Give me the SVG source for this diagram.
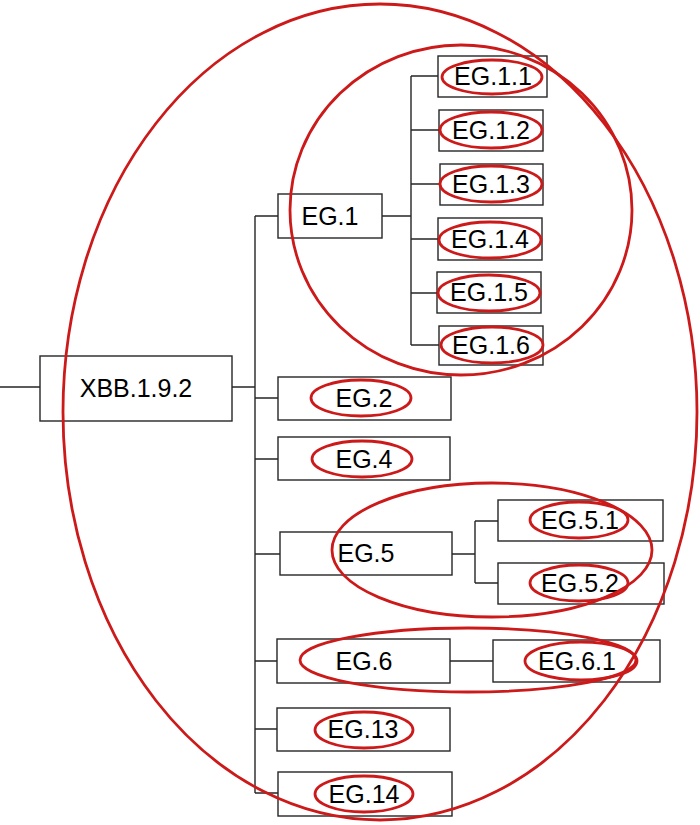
<svg xmlns="http://www.w3.org/2000/svg" width="700" height="825" viewBox="0 0 700 825">
<style>
.box{fill:#fff;stroke:#262626;stroke-width:1.4}
.lbl{font-family:"Liberation Sans",Arial,sans-serif;font-size:25px;fill:#000;text-anchor:middle}
.conn path{fill:none;stroke:#262626;stroke-width:1.4}
.hl{fill:none;stroke:#cc1a1a;stroke-width:2.8}
</style>
<rect width="700" height="825" fill="#fff"/>
<g id="connectors" class="conn">
<path d="M0 387H40M232 387H255M255 216V793M255 216H278M255 398H278M255 459H278M255 554H280M255 661H277M255 729H277M255 793H278"/>
<path d="M382 216H411M411 76V345M411 76H438M411 130H439M411 184H440M411 239H438M411 293H437M411 345H439"/>
<path d="M452 554H475M475 521V583M475 521H498M475 583H498M450 661H493"/>
</g>
<g id="n-xbb"><rect class="box" x="40" y="356" width="192" height="65"/><text class="lbl" x="136" y="397">XBB.1.9.2</text></g>
<g id="n-eg1"><rect class="box" x="278" y="194" width="104" height="44"/><text class="lbl" x="330" y="225">EG.1</text></g>
<g id="n-eg1-1"><rect class="box" x="438" y="56" width="109" height="41"/><text class="lbl" x="493" y="85">EG.1.1</text></g>
<g id="n-eg1-2"><rect class="box" x="439" y="110" width="104" height="41"/><text class="lbl" x="491" y="139">EG.1.2</text></g>
<g id="n-eg1-3"><rect class="box" x="440" y="164" width="103" height="41"/><text class="lbl" x="491" y="193">EG.1.3</text></g>
<g id="n-eg1-4"><rect class="box" x="438" y="218" width="104" height="42"/><text class="lbl" x="490" y="248">EG.1.4</text></g>
<g id="n-eg1-5"><rect class="box" x="437" y="272" width="104" height="41"/><text class="lbl" x="489" y="301">EG.1.5</text></g>
<g id="n-eg1-6"><rect class="box" x="439" y="326" width="104" height="39"/><text class="lbl" x="491" y="354">EG.1.6</text></g>
<g id="n-eg2"><rect class="box" x="278" y="377" width="173" height="43"/><text class="lbl" x="364" y="407">EG.2</text></g>
<g id="n-eg4"><rect class="box" x="278" y="437" width="172" height="43"/><text class="lbl" x="364" y="468">EG.4</text></g>
<g id="n-eg5"><rect class="box" x="280" y="532" width="172" height="43"/><text class="lbl" x="366" y="562">EG.5</text></g>
<g id="n-eg5-1"><rect class="box" x="498" y="500" width="165" height="41"/><text class="lbl" x="580" y="529">EG.5.1</text></g>
<g id="n-eg5-2"><rect class="box" x="498" y="563" width="166" height="41"/><text class="lbl" x="580" y="592">EG.5.2</text></g>
<g id="n-eg6"><rect class="box" x="277" y="639" width="173" height="44"/><text class="lbl" x="364" y="670">EG.6</text></g>
<g id="n-eg6-1"><rect class="box" x="493" y="640" width="167" height="42"/><text class="lbl" x="577" y="670">EG.6.1</text></g>
<g id="n-eg13"><rect class="box" x="277" y="708" width="173" height="43"/><text class="lbl" x="363" y="738">EG.13</text></g>
<g id="n-eg14"><rect class="box" x="278" y="772" width="174" height="44"/><text class="lbl" x="364" y="803">EG.14</text></g>
<g id="highlights">
<ellipse class="hl" cx="380" cy="412" rx="317" ry="408"/>
<ellipse class="hl" cx="461" cy="210" rx="171" ry="165"/>
<ellipse class="hl" cx="492" cy="550" rx="160" ry="67"/>
<ellipse class="hl" cx="468" cy="660" rx="168" ry="32"/>
<ellipse class="hl" cx="492" cy="77" rx="50" ry="17"/>
<ellipse class="hl" cx="491" cy="130" rx="51" ry="18"/>
<ellipse class="hl" cx="491" cy="184" rx="51" ry="18"/>
<ellipse class="hl" cx="490" cy="240" rx="51" ry="18"/>
<ellipse class="hl" cx="489" cy="293" rx="51" ry="18"/>
<ellipse class="hl" cx="492" cy="345" rx="51" ry="18"/>
<ellipse class="hl" cx="361" cy="398" rx="50" ry="18"/>
<ellipse class="hl" cx="362" cy="459" rx="50" ry="18"/>
<ellipse class="hl" cx="579" cy="520" rx="49" ry="18"/>
<ellipse class="hl" cx="579" cy="583" rx="49" ry="18"/>
<ellipse class="hl" cx="581" cy="661" rx="56" ry="19"/>
<ellipse class="hl" cx="364" cy="730" rx="49" ry="18"/>
<ellipse class="hl" cx="364" cy="794" rx="49" ry="18"/>
</g>
</svg>
